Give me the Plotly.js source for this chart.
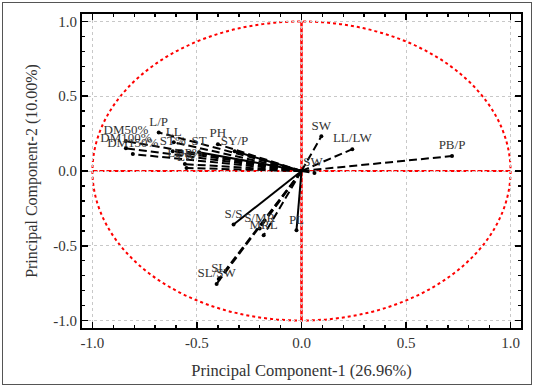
<!DOCTYPE html>
<html>
<head>
<meta charset="utf-8">
<script src="https://cdn.plot.ly/plotly-3.0.1.min.js"></script>
<style>
html,body{margin:0;padding:0;background:#fff;}
#wrap{position:relative;width:534px;height:388px;}
#chart{position:absolute;left:0;top:0;width:534px;height:388px;}
#frame{position:absolute;left:2px;top:2px;width:528px;height:381px;border:1.5px solid #555;pointer-events:none;}
</style>
</head>
<body>
<div id="wrap"><div id="chart"></div><div id="frame"></div></div>
<script>
// Variable names and loadings (PC1, PC2)
const varNames = ['L/P','LL','DM50%','DM100%','DM150%','ST%','ST','PH','SY/P','LDP%','LW','PB/P','LL/LW','SW','SW ','S/S','S/MR','MRL','PL','SL','SL/SW'];
const pc1 = [-0.683,-0.611,-0.84,-0.84,-0.807,-0.616,-0.49,-0.40,-0.32,-0.558,-0.55,0.72,0.243,0.095,0.062,-0.325,-0.20,-0.181,-0.024,-0.396,-0.406];
const pc2 = [0.258,0.192,0.199,0.152,0.113,0.132,0.126,0.179,0.132,0.046,0.02,0.10,0.146,0.232,-0.013,-0.358,-0.384,-0.43,-0.397,-0.722,-0.755];
const solidVars = ['S/S','PL','ST','SY/P'];
const tickVals = [-1.0,-0.5,0.0,0.5,1.0];
const tickText = ['-1.0','-0.5','0.0','0.5','1.0'];
const xTitle = 'Principal Component-1 (26.96%)';
const yTitle = 'Principal Component-2 (10.00%)';

const FONT = 'Liberation Serif, "DejaVu Serif", serif';
const traces = [];
varNames.forEach((n,i)=>{
  traces.push({
    x:[0,pc1[i]], y:[0,pc2[i]], mode:'lines', type:'scatter',
    line:{color:'#000', width:2, dash: solidVars.includes(n)?'solid':'8px,4px'},
    hoverinfo:'skip', showlegend:false
  });
});
traces.push({
  x:pc1, y:pc2, text:varNames, mode:'markers+text', type:'scatter',
  textposition:'top center', marker:{color:'#000', size:4},
  textfont:{family:FONT, size:13, color:'#333'}, showlegend:false, cliponaxis:false
});

const axisBase = {
  range:[-1.05,1.05], tickvals:tickVals, ticktext:tickText,
  ticks:'inside', ticklen:6, tickwidth:1.5, tickcolor:'#000',
  showline:true, linewidth:2, linecolor:'#000', mirror:'ticks',
  showgrid:true, gridcolor:'#c8c8c8', griddash:'dot', gridwidth:1,
  zeroline:false, tickfont:{family:FONT, size:15, color:'#333'},
  minor:{dtick:0.1, ticks:'inside', ticklen:3, tickcolor:'#000', showgrid:false},
  fixedrange:true
};

const layout = {
  width:534, height:388,
  margin:{l:82, r:13, t:14, b:60},
  paper_bgcolor:'#fff', plot_bgcolor:'#fff',
  xaxis:Object.assign({}, axisBase, {title:{text:xTitle, font:{family:FONT, size:16.5, color:'#333'}, standoff:14}}),
  yaxis:Object.assign({}, axisBase, {title:{text:yTitle, font:{family:FONT, size:16, color:'#333'}, standoff:12}}),
  shapes:[
    {type:'circle', xref:'x', yref:'y', x0:-1, x1:1, y0:-1, y1:1, line:{color:'#ff0000', width:2, dash:'dot'}, layer:'below'},
    {type:'line', xref:'x', yref:'y', x0:-1, x1:1, y0:0, y1:0, line:{color:'#ff0000', width:2, dash:'5px,2px'}, layer:'below'},
    {type:'line', xref:'x', yref:'y', x0:0, x1:0, y0:-1, y1:1, line:{color:'#ff0000', width:2.5, dash:'5px,1px'}, layer:'below'}
  ],
  showlegend:false
};
Plotly.newPlot('chart', traces, layout, {displayModeBar:false, staticPlot:true});
</script>
</body>
</html>
